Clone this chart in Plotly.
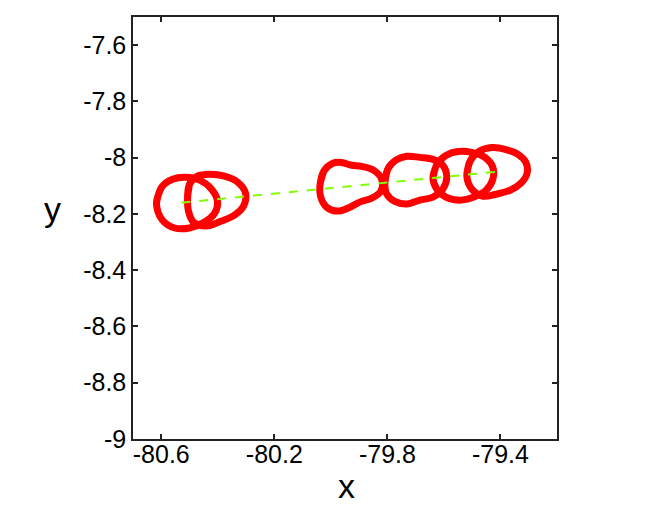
import plotly.graph_objects as go

# Outline points of each body (data coordinates)
shape1_x = [-80.617, -80.599, -80.560, -80.514, -80.464, -80.422, -80.401, -80.411, -80.447, -80.500, -80.553, -80.596]
shape1_y = [-8.162, -8.105, -8.077, -8.070, -8.080, -8.112, -8.155, -8.197, -8.229, -8.250, -8.250, -8.222]

shape2_x = [-80.507, -80.500, -80.472, -80.429, -80.376, -80.330, -80.302, -80.309, -80.341, -80.387, -80.443, -80.486, -80.503]
shape2_y = [-8.147, -8.094, -8.066, -8.059, -8.066, -8.087, -8.126, -8.172, -8.204, -8.225, -8.243, -8.229, -8.193]

shape3_x = [-80.039, -80.025, -79.993, -79.962, -79.926, -79.891, -79.848, -79.820, -79.823, -79.855, -79.898, -79.933, -79.976, -80.015, -80.036]
shape3_y = [-8.101, -8.048, -8.020, -8.017, -8.027, -8.031, -8.045, -8.077, -8.119, -8.144, -8.158, -8.176, -8.190, -8.176, -8.140]

shape4_x = [-79.809, -79.799, -79.770, -79.731, -79.685, -79.639, -79.604, -79.590, -79.604, -79.639, -79.685, -79.731, -79.774, -79.802]
shape4_y = [-8.094, -8.041, -8.009, -7.995, -7.999, -8.006, -8.027, -8.070, -8.112, -8.140, -8.151, -8.165, -8.155, -8.130]

shape5_x = [-79.639, -79.625, -79.593, -79.551, -79.501, -79.455, -79.427, -79.427, -79.451, -79.494, -79.544, -79.593, -79.625]
shape5_y = [-8.073, -8.024, -7.992, -7.978, -7.981, -7.999, -8.034, -8.077, -8.116, -8.140, -8.151, -8.140, -8.112]

shape6_x = [-79.519, -79.508, -79.476, -79.430, -79.381, -79.338, -79.310, -79.306, -79.328, -79.366, -79.416, -79.462, -79.501]
shape6_y = [-8.066, -8.013, -7.978, -7.964, -7.971, -7.988, -8.017, -8.056, -8.091, -8.116, -8.130, -8.137, -8.112]

# Trajectory line (green dashed)
track_x = [-80.529, -79.391]
track_y = [-8.160, -8.048]

x_tickvals = [-80.6, -80.2, -79.8, -79.4]
x_ticktext = ["-80.6", "-80.2", "-79.8", "-79.4"]
y_tickvals = [-9.0, -8.8, -8.6, -8.4, -8.2, -8.0, -7.8, -7.6]
y_ticktext = ["-9", "-8.8", "-8.6", "-8.4", "-8.2", "-8", "-7.8", "-7.6"]

shapes = [
    (shape1_x, shape1_y), (shape2_x, shape2_y), (shape3_x, shape3_y),
    (shape4_x, shape4_y), (shape5_x, shape5_y), (shape6_x, shape6_y),
]

fig = go.Figure()
for sx, sy in shapes:
    fig.add_trace(go.Scatter(
        x=sx + sx[:2], y=sy + sy[:2], mode="lines",
        line=dict(color="#ff0000", width=7, shape="spline", smoothing=1.0),
        showlegend=False, hoverinfo="skip"))

fig.add_trace(go.Scatter(
    x=track_x, y=track_y, mode="lines",
    line=dict(color="#7fff00", width=2, dash="dash"),
    showlegend=False))

axis_common = dict(
    showgrid=False, zeroline=False, showline=True, linecolor="#222",
    linewidth=1.5, mirror="ticks", ticks="inside", ticklen=5, tickwidth=1.5,
    tickcolor="#222",
    tickfont=dict(family="Liberation Sans, Arial, sans-serif", size=25, color="black"),
)

fig.update_xaxes(range=[-80.7, -79.2], tickvals=x_tickvals, ticktext=x_ticktext,
                 ticklabelstandoff=-8, **axis_common)
fig.update_yaxes(range=[-9.0, -7.5], tickvals=y_tickvals, ticktext=y_ticktext, **axis_common)

# page body has an 8px margin, so the figure is shifted by 8px
fig.update_layout(
    width=656, height=501,
    margin=dict(l=125, r=107, t=7, b=70),
    plot_bgcolor="white", paper_bgcolor="white",
    font=dict(family="Liberation Sans, Arial, sans-serif", color="black"),
    annotations=[
        dict(text="x", xref="paper", yref="paper", x=0.504, y=-0.111,
             showarrow=False, font=dict(size=34), xanchor="center", yanchor="middle"),
        dict(text="y", xref="paper", yref="paper", x=-0.19, y=0.545,
             showarrow=False, font=dict(size=34), xanchor="center", yanchor="middle"),
    ],
)

fig.write_html("out.html")
